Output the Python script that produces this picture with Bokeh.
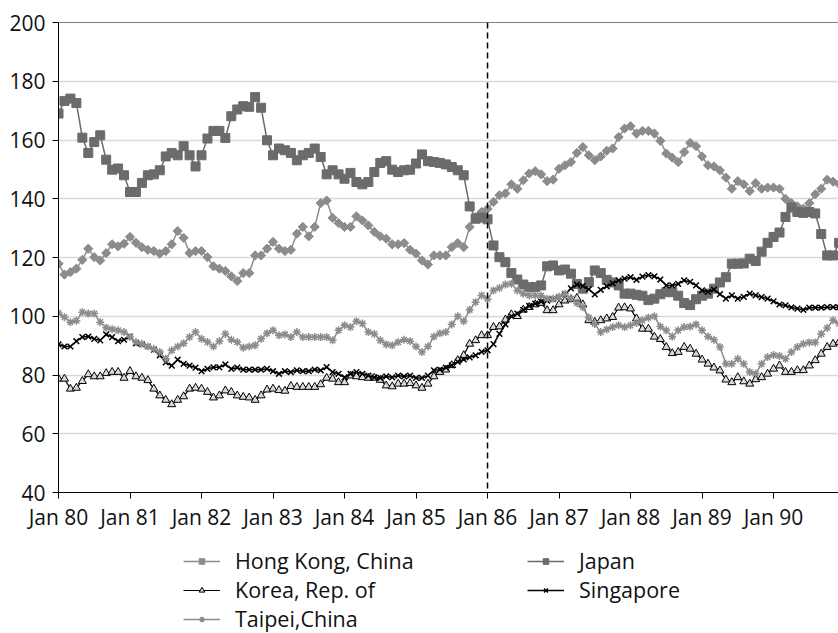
import math
from bokeh.plotting import figure
from bokeh.layouts import column
from bokeh.models import FixedTicker, Span, Legend, LegendItem, Range1d
from bokeh.embed import file_html
from bokeh.resources import INLINE

# ---- data (monthly index, Jan 1980 = 0) ----
tick_months = [0, 12, 24, 36, 48, 60, 72, 84, 96, 108, 120]
tick_labels = ["Jan 80", "Jan 81", "Jan 82", "Jan 83", "Jan 84", "Jan 85",
               "Jan 86", "Jan 87", "Jan 88", "Jan 89", "Jan 90"]
y_ticks = [40, 60, 80, 100, 120, 140, 160, 180, 200]
event_month = 72  # Jan 86

hong_kong = [117.9, 114.2, 115.0, 116.2, 119.2, 123.0, 120.1, 119.0, 121.5, 124.5, 123.8, 124.7,
             127.0, 125.0, 123.5, 122.6, 122.2, 121.3, 122.2, 124.5, 129.0, 126.7, 121.5, 122.2,
             122.2, 120.1, 117.0, 116.2, 115.4, 113.6, 112.0, 114.7, 114.7, 120.7, 120.7, 123.0,
             125.3, 123.0, 122.2, 122.6, 128.1, 130.4, 127.2, 130.4, 138.5, 139.4, 133.5, 131.7,
             130.4, 130.4, 134.0, 132.6, 130.9, 128.7, 127.2, 126.4, 124.5, 124.5, 124.9, 122.6,
             121.3, 119.0, 117.6, 120.7, 120.7, 120.7, 123.5, 124.9, 123.5, 130.4, 133.8, 135.5,
             136.6, 138.9, 141.2, 141.8, 144.9, 143.4, 146.3, 148.6, 149.4, 148.3, 146.0, 146.5,
             150.2, 151.4, 152.5, 155.6, 157.6, 154.8, 153.1, 154.4, 156.3, 157.1, 161.0, 163.9,
             164.7, 162.2, 163.1, 163.1, 162.2, 159.7, 155.4, 154.0, 152.5, 155.9, 159.0, 157.9,
             154.4, 151.4, 151.0, 149.7, 147.2, 143.4, 146.0, 144.9, 142.6, 145.3, 143.4, 143.8,
             143.8, 143.4, 140.0, 138.5, 137.4, 136.6, 138.5, 141.5, 143.4, 146.5, 145.8, 145.0]

japan = [169.0, 173.3, 174.1, 172.6, 160.8, 155.6, 159.3, 161.6, 153.3, 149.9, 150.3, 148.0,
         142.3, 142.3, 145.4, 148.0, 148.3, 149.7, 154.4, 155.6, 154.8, 157.9, 154.8, 151.0,
         154.8, 160.5, 163.1, 163.1, 160.7, 168.1, 170.4, 171.5, 171.3, 174.6, 171.0, 159.9,
         154.8, 157.1, 156.5, 155.6, 153.1, 154.8, 155.6, 157.1, 154.2, 148.3, 149.7, 148.3,
         146.8, 148.8, 145.7, 144.9, 145.7, 149.1, 152.2, 152.8, 149.9, 149.1, 149.7, 149.9,
         152.0, 155.1, 152.8, 152.5, 152.2, 151.7, 150.8, 149.7, 148.0, 137.4, 133.2, 133.6,
         133.0, 124.1, 120.1, 118.4, 114.7, 112.5, 110.8, 109.9, 110.0, 110.5, 117.0, 117.3,
         115.6, 115.9, 114.5, 111.0, 109.4, 111.6, 115.6, 114.7, 112.4, 111.5, 110.5, 107.7,
         107.7, 107.3, 107.0, 105.5, 106.0, 107.5, 108.2, 108.2, 107.0, 104.5, 103.8, 105.8,
         107.0, 107.7, 109.4, 111.5, 113.3, 117.9, 117.9, 118.0, 119.6, 118.8, 122.0, 125.0,
         127.0, 128.5, 133.8, 137.0, 135.5, 135.2, 135.5, 135.0, 128.0, 120.7, 120.7, 125.0]

korea = [78.7, 78.7, 75.3, 75.6, 77.9, 80.2, 79.5, 79.5, 80.6, 81.0, 81.0, 79.0,
         81.3, 79.5, 79.0, 78.2, 75.3, 73.0, 71.5, 70.0, 71.5, 72.7, 75.3, 75.6,
         75.3, 74.2, 72.3, 73.0, 74.7, 74.2, 73.0, 72.5, 72.3, 71.5, 73.0, 75.0,
         75.3, 74.8, 74.6, 76.2, 75.9, 75.9, 75.9, 75.9, 76.8, 79.0, 78.7, 77.5,
         77.5, 79.8, 79.5, 79.2, 79.0, 79.0, 78.3, 76.4, 76.1, 77.0, 77.0, 77.2,
         76.4, 75.6, 77.0, 79.5, 81.0, 81.8, 83.3, 85.0, 86.7, 90.6, 91.8, 93.5,
         93.5, 96.3, 96.5, 98.8, 100.6, 100.0, 102.2, 103.1, 104.0, 104.5, 102.0, 102.0,
         104.0, 105.3, 105.8, 106.2, 104.0, 98.6, 98.0, 98.6, 99.2, 99.7, 102.9, 103.0,
         102.6, 99.2, 95.7, 95.7, 93.0, 92.2, 89.5, 87.4, 87.8, 89.5, 88.9, 87.2,
         85.2, 83.8, 82.5, 81.5, 78.4, 77.5, 79.2, 77.8, 77.0, 78.5, 79.2, 80.4,
         82.1, 83.2, 81.0, 81.0, 81.6, 81.6, 83.2, 85.0, 87.2, 89.5, 90.6, 91.2]

singapore = [90.4, 89.7, 89.7, 91.5, 92.9, 93.1, 92.3, 91.8, 93.8, 92.9, 91.5, 92.0,
             93.1, 90.8, 90.4, 89.7, 88.6, 86.7, 84.3, 83.2, 85.2, 83.8, 83.2, 82.5,
             81.3, 82.1, 82.6, 82.6, 83.6, 82.1, 82.5, 81.8, 81.8, 81.8, 81.8, 82.1,
             81.3, 80.4, 81.3, 81.0, 81.6, 81.3, 81.3, 81.8, 81.6, 82.7, 81.0, 80.4,
             79.2, 80.4, 81.0, 80.4, 79.8, 79.2, 79.0, 79.5, 79.2, 79.8, 79.5, 79.8,
             79.0, 79.0, 79.8, 81.6, 81.8, 82.5, 83.3, 84.5, 85.3, 86.0, 86.7, 87.9,
             88.4, 90.5, 94.0, 97.2, 100.0, 100.9, 102.2, 103.5, 104.3, 105.0, 105.3, 105.8,
             106.5, 107.5, 109.5, 110.8, 110.3, 109.2, 107.4, 109.0, 110.2, 111.2, 112.2, 112.8,
             113.3, 112.4, 113.5, 114.0, 113.6, 112.5, 110.5, 110.5, 111.0, 112.2, 111.7, 110.5,
             108.8, 108.3, 109.1, 107.5, 106.0, 107.1, 106.0, 106.6, 107.7, 107.1, 106.5, 106.0,
             105.1, 104.0, 103.7, 103.0, 102.6, 102.2, 102.9, 102.9, 102.9, 103.1, 103.1, 103.0]

taipei = [101.1, 99.7, 98.0, 98.5, 101.4, 100.9, 100.9, 98.0, 96.1, 95.6, 95.2, 94.6,
          92.9, 91.2, 90.6, 89.7, 88.9, 87.8, 85.5, 88.4, 89.7, 90.8, 92.9, 94.6,
          92.3, 91.2, 89.7, 91.5, 94.0, 92.0, 91.2, 89.3, 89.7, 90.1, 92.3, 94.2,
          95.2, 93.5, 93.8, 92.9, 94.6, 92.9, 92.9, 92.9, 92.9, 92.9, 91.8, 95.2,
          96.9, 96.3, 98.3, 97.5, 94.6, 94.0, 91.8, 90.4, 90.1, 91.2, 92.0, 91.5,
          89.7, 87.8, 89.7, 93.1, 94.2, 94.6, 97.2, 100.0, 98.3, 102.2, 104.8, 107.1,
          105.9, 108.8, 109.6, 110.8, 111.1, 108.8, 107.7, 107.1, 107.1, 107.0, 106.0, 106.0,
          106.6, 107.7, 106.0, 104.5, 103.1, 99.5, 97.4, 94.6, 95.5, 96.3, 96.9, 96.3,
          96.9, 97.7, 98.6, 99.5, 100.0, 96.5, 95.2, 93.1, 95.2, 96.3, 96.5, 97.2,
          95.2, 93.1, 92.0, 89.5, 83.8, 83.8, 85.5, 83.8, 81.0, 80.5, 83.8, 86.1,
          86.8, 86.5, 85.5, 87.8, 89.5, 90.6, 91.1, 91.1, 94.0, 96.0, 98.6, 97.5]

FONT = "Open Sans"
FS = "21.5px"

styles = {
    "hk": dict(lc="#8c8c8c", lw=1.5, marker="square", size=6.5, fill="#8c8c8c", mlc="#8c8c8c", angle=math.pi / 4),
    "jp": dict(lc="#6b6b6b", lw=1.5, marker="square", size=9, fill="#6b6b6b", mlc="#6b6b6b", angle=0),
    "kr": dict(lc="black", lw=1.2, marker="triangle", size=8, fill="#d9d9d9", mlc="black", angle=0),
    "sg": dict(lc="black", lw=1.5, marker="x", size=8, fill=None, mlc="black", angle=0),
    "tp": dict(lc="#8c8c8c", lw=1.5, marker="asterisk", size=8, fill=None, mlc="#8c8c8c", angle=0),
}


def draw(fig, key, xs, ys):
    s = styles[key]
    ln = fig.line(xs, ys, line_color=s["lc"], line_width=s["lw"])
    sc = fig.scatter(xs, ys, marker=s["marker"], size=s["size"], angle=s["angle"],
                     fill_color=s["fill"], line_color=s["mlc"],
                     line_width=1.5 if key in ("sg", "tp") else 1)
    return [ln, sc]


series = [("hk", hong_kong), ("jp", japan), ("kr", korea), ("sg", singapore), ("tp", taipei)]

# ---- main chart ----
p = figure(width=838, height=533, output_backend="svg", toolbar_location=None,
           x_range=Range1d(0, 130.9), y_range=Range1d(40, 200),
           min_border_left=58, min_border_right=0, min_border_top=22, min_border_bottom=41)
p.outline_line_color = None
p.background_fill_color = "white"
p.border_fill_color = "white"

p.xaxis.ticker = FixedTicker(ticks=tick_months)
p.xaxis.major_label_overrides = {m: lab for m, lab in zip(tick_months, tick_labels)}
p.yaxis.ticker = FixedTicker(ticks=y_ticks)
for ax in (p.xaxis, p.yaxis):
    ax.axis_line_color = "black"
    ax.axis_line_width = 1
    ax.major_tick_line_color = "black"
    ax.major_tick_out = 6
    ax.major_tick_in = 0
    ax.minor_tick_line_color = None
    ax.major_label_text_font = FONT
    ax.major_label_text_font_size = "21px"
    ax.major_label_text_color = "#111111"
p.yaxis.major_label_standoff = 7
p.xaxis.major_label_standoff = 4

p.xgrid.grid_line_color = None
p.ygrid.grid_line_color = "#d9d9d9"
p.ygrid.grid_line_width = 1.5

p.add_layout(Span(location=200, dimension="width", line_color="black", line_width=1))
p.add_layout(Span(location=event_month, dimension="height", line_color="black",
                  line_width=1.5, line_dash="6 4"))

for key, vals in series:
    draw(p, key, list(range(len(vals))), vals)

# ---- legend strip: same series, drawn outside its (empty) view so only legend shows ----
lf = figure(width=838, height=100, output_backend="svg", toolbar_location=None,
            x_range=Range1d(0, 1), y_range=Range1d(0, 1),
            min_border=0, x_axis_location=None, y_axis_location=None)
lf.outline_line_color = None
lf.grid.visible = False
lf.background_fill_color = "white"
lf.border_fill_color = "white"

leg_r = {key: draw(lf, key, list(range(len(vals))), vals) for key, vals in series}


def make_legend(items, loc):
    lg = Legend(items=items, location=loc, orientation="vertical")
    lg.label_text_font = FONT
    lg.label_text_font_size = FS
    lg.label_text_color = "#111111"
    lg.glyph_width = 37
    lg.glyph_height = 14
    lg.label_height = 29
    lg.label_standoff = 15
    lg.spacing = 0
    lg.padding = 0
    lg.margin = 0
    lg.border_line_color = None
    lg.background_fill_alpha = 0
    return lg


lf.add_layout(make_legend([
    LegendItem(label="Hong Kong, China", renderers=leg_r["hk"]),
    LegendItem(label="Korea, Rep. of", renderers=leg_r["kr"]),
    LegendItem(label="Taipei,China", renderers=leg_r["tp"]),
], (125, 0)))
lf.add_layout(make_legend([
    LegendItem(label="Japan", renderers=leg_r["jp"]),
    LegendItem(label="Singapore", renderers=leg_r["sg"]),
], (469, 29)))

layout = column(p, lf, spacing=0)
open("out.html", "w").write(file_html(layout, INLINE))
